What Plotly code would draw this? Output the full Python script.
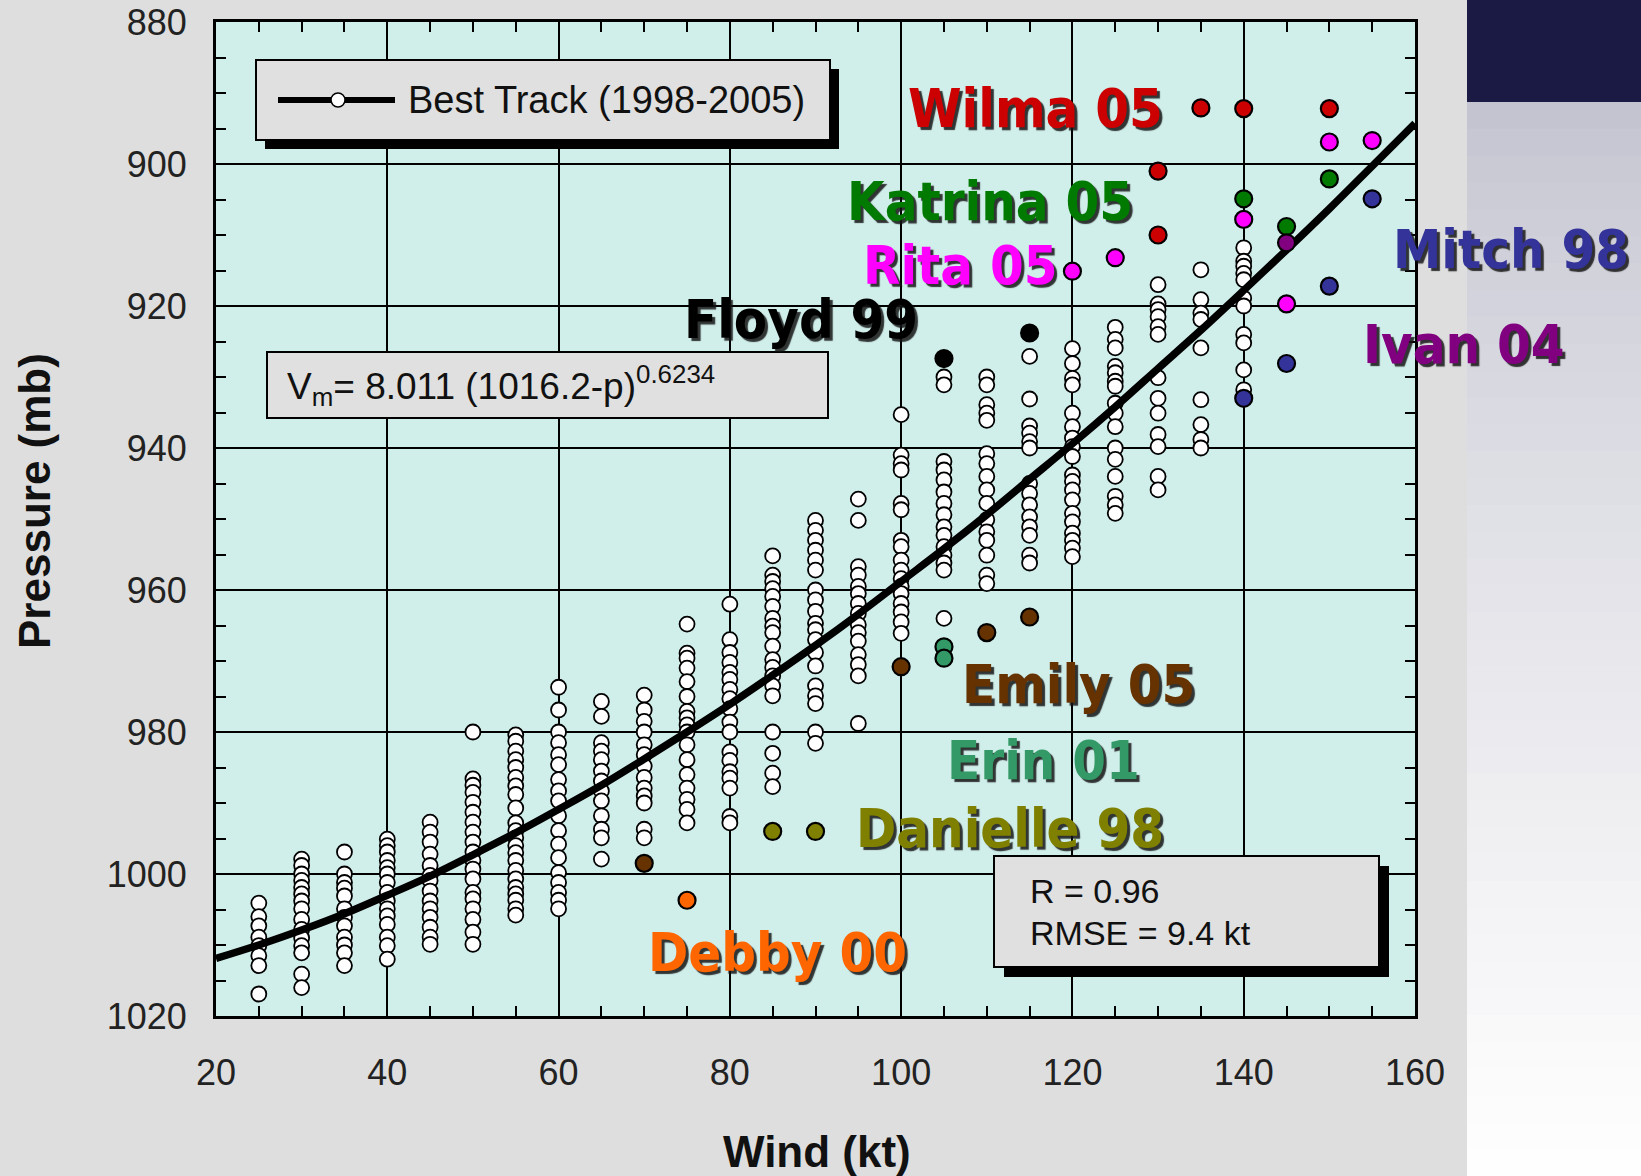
import plotly.graph_objects as go

# ---------------- data ----------------
bt_winds = [25, 30, 35, 40, 45, 50, 55, 60, 65, 70, 75, 80, 85, 90, 95,
            100, 105, 110, 115, 120, 125, 130, 135, 140]

bt_025 = [1004.1, 1006, 1007.3, 1008.9, 1010.1, 1011.5, 1012.9, 1016.9]
bt_030 = [997.9, 998.8, 1000, 1000.9, 1001.9, 1002.8, 1003.8, 1004.9, 1006.4, 1007.8,
          1009.0, 1010.1, 1011.1, 1014.1, 1016.0]
bt_035 = [996.9, 1000, 1001.2, 1002.0, 1003.1, 1004.9, 1006.1, 1007.3, 1008.9, 1010.0,
          1011.1, 1012.9]
bt_040 = [995.1, 996, 996.9, 998.1, 999.1, 1000, 1001.2, 1002.6, 1003.8, 1004.9, 1005.9,
          1007.1, 1008.9, 1010.1, 1012]
bt_045 = [992.7, 994.1, 995.5, 997.2, 998.8, 1000.2, 1000.9, 1002.4, 1003.8, 1004.9,
          1006.1, 1007.5, 1008.9, 1009.9]
bt_050 = [980, 986.6, 987.5, 988.5, 989.9, 991.3, 992.7, 994.1, 995.5, 996.9, 998.1,
          999.3, 1000.7, 1002.6, 1003.5, 1004.9, 1006.4, 1008.2, 1009.9]
bt_055 = [980.4, 981.3, 982.7, 983.9, 985, 986.4, 987.6, 988.8, 990.7, 992.8, 993.9,
          994.9, 996, 997, 998.1, 999.5, 1000.7, 1001.9, 1002.8, 1003.7, 1004.9, 1005.8]
bt_060 = [973.7, 976.9, 980, 981.5, 983.2, 984.6, 986.7, 988.3, 989.7, 991.8, 993.9,
          995.8, 997.7, 999.8, 1001.2, 1002.6, 1003.7, 1004.9]
bt_065 = [975.7, 977.8, 981.5, 982.7, 983.9, 985.5, 986.9, 988.3, 989.7, 991.8, 993.7,
          994.9, 997.9]
bt_070 = [974.8, 976.9, 978.5, 980, 981.8, 983.2, 984.8, 986.4, 987.9, 989, 990, 993.7,
          994.9]
bt_075 = [964.8, 968.9, 969.6, 971, 972.9, 975, 977.1, 978, 979, 980, 981.8, 983.9, 986,
          987.9, 989.5, 990.9, 992.8]
bt_080 = [962, 967, 968.8, 970.2, 971.6, 972.6, 974, 975.3, 976.7, 978.6, 980, 982.8,
          984, 985.6, 986.5, 987.9, 991.9, 992.8]
bt_085 = [955.2, 957.9, 958.8, 959.8, 960.9, 962.3, 964, 965.1, 966, 967.9, 969.8, 970.9,
          972.1, 973.5, 974.9, 980, 983, 985.8, 987.7]
bt_090 = [950.2, 951.6, 953, 954.4, 955.8, 957.2, 960, 961.4, 963, 964.7, 965.6, 967,
          968.8, 970.7, 973.5, 974.9, 976, 980, 981.6]
bt_095 = [947.2, 950.2, 956.7, 957.9, 959.5, 960.5, 961.9, 963.3, 964.9, 966, 967.2,
          969.1, 970.5, 972.1, 978.8]
bt_100 = [935.3, 941, 942.2, 943.1, 947.8, 948.7, 953, 953.9, 955.8, 957.2, 958.4, 959.5,
          960.5, 961.9, 963.1, 964.5, 966.1]
bt_105 = [930, 931.1, 941.9, 943.1, 944.5, 946.2, 947.8, 949.4, 951.1, 952.3, 953.9,
          955.1, 956.2, 957.2, 964]
bt_110 = [930, 931.1, 933.9, 935.1, 936.1, 940.8, 942.2, 944, 945.9, 947.8, 950.1, 951.8,
          953, 955.1, 957.9, 959.1]
bt_115 = [927.1, 933.1, 936.9, 937.9, 939.1, 940, 945, 946.4, 948, 949.7, 951.1, 952.3,
          955.1, 956.2]
bt_120 = [926, 928.1, 930.2, 931.1, 935.1, 937, 938.6, 939.8, 941.2, 943.8, 944.7, 945.9,
          947.3, 949.2, 950.4, 952, 953, 954.1, 955.3]
bt_125 = [923, 924.7, 925.9, 928.5, 929.4, 930.6, 931.3, 933.7, 935.1, 937, 940, 941.6,
          944, 946.8, 948, 949.2]
bt_130 = [917, 919.7, 920.5, 921.5, 922.9, 924, 930.1, 933, 935.1, 938.1, 939.8, 944,
          945.9]
bt_135 = [914.9, 919.1, 921, 921.9, 925.9, 933.2, 936.7, 938.8, 940]
bt_140 = [911.8, 913.7, 914.4, 915.4, 916.3, 918.9, 920, 924, 925.2, 929, 931.8]

bt_columns = [bt_025, bt_030, bt_035, bt_040, bt_045, bt_050, bt_055, bt_060, bt_065,
              bt_070, bt_075, bt_080, bt_085, bt_090, bt_095, bt_100, bt_105, bt_110,
              bt_115, bt_120, bt_125, bt_130, bt_135, bt_140]

# fitted curve
fit_wind = [20, 25, 30, 35, 40, 45, 50, 55, 60, 65, 70, 75, 80, 85, 90, 95, 100, 105,
            110, 115, 120, 125, 130, 135, 140, 145, 150, 155, 160]
fit_pres = [1011.9, 1010.0, 1007.9, 1005.6, 1003.0, 1000.3, 997.3, 994.2, 990.9, 987.5,
            983.8, 980.0, 976.1, 972.0, 967.8, 963.4, 958.8, 954.2, 949.4, 944.4, 939.4,
            934.2, 928.8, 923.4, 917.8, 912.1, 906.3, 900.3, 894.3]

# individual storms
storm_names = ["Emily 05", "Erin 01", "Danielle 98", "Debby 00", "Floyd 99",
               "Wilma 05", "Katrina 05", "Ivan 04", "Rita 05", "Mitch 98"]
storm_colors = ["#663300", "#339966", "#808000", "#ff6600", "#000000",
                "#cc0000", "#007a00", "#800080", "#ff00ff", "#333399"]
storm_wind = [[70, 100, 110, 115], [105, 105], [85, 90], [75], [105, 115],
              [130, 130, 135, 140, 150], [140, 145, 150], [145],
              [120, 125, 140, 145, 150, 155], [140, 145, 150, 155]]
storm_pres = [[998.5, 970.8, 966.0, 963.8], [968.0, 969.6], [994.0, 994.0], [1003.7],
              [927.4, 923.8], [901.0, 910.0, 892.1, 892.2, 892.2],
              [904.9, 908.8, 902.1], [911.1],
              [915.1, 913.2, 907.8, 919.7, 896.9, 896.7],
              [933.0, 928.1, 917.2, 904.9]]

x_ticks = [20, 40, 60, 80, 100, 120, 140, 160]
y_ticks = [880, 900, 920, 940, 960, 980, 1000, 1020]

legend_text = "Best Track (1998-2005)"
formula_text = "V<sub>m</sub>= 8.011 (1016.2-p)<sup>0.6234</sup>"
stats_lines = ["R = 0.96", "RMSE = 9.4 kt"]

# ---------------- figure ----------------
W, H = 1641, 1176
L, R, T, B = 216, 1415, 22, 1016


def PX(x):
    return (x - L) / (R - L)


def PY(y):
    return (B - y) / (B - T)


fig = go.Figure()

bx, by = [], []
for w, col in zip(bt_winds, bt_columns):
    bx += [w] * len(col)
    by += col
fig.add_trace(go.Scatter(x=bx, y=by, mode="markers",
                         marker=dict(size=15, color="white",
                                     line=dict(color="black", width=1.8)),
                         showlegend=False, hoverinfo="skip"))

fig.add_trace(go.Scatter(x=fit_wind, y=fit_pres, mode="lines",
                         line=dict(color="black", width=7.5, shape="spline"),
                         showlegend=False, hoverinfo="skip"))

for name, c, xs, ys in zip(storm_names, storm_colors, storm_wind, storm_pres):
    fig.add_trace(go.Scatter(x=xs, y=ys, mode="markers", name=name,
                             marker=dict(size=17, color=c,
                                         line=dict(color="black", width=2.2)),
                             showlegend=False, hoverinfo="skip"))

shapes = []
# right decorative panel
shapes.append(dict(type="rect", xref="paper", yref="paper",
                   x0=PX(1467), x1=PX(1641), y0=PY(0), y1=PY(102),
                   fillcolor="#1b1a44", line=dict(width=0), layer="below"))
nb = 40
top = (194, 194, 207)
for i in range(nb):
    y0 = 102 + (1176 - 102) * i / nb
    y1 = 102 + (1176 - 102) * (i + 1) / nb
    t = ((i + 0.5) / nb) ** 0.75
    c = tuple(int(round(top[k] + (255 - top[k]) * t)) for k in range(3))
    shapes.append(dict(type="rect", xref="paper", yref="paper",
                       x0=PX(1467), x1=PX(1641), y0=PY(y0), y1=PY(y1 + 1),
                       fillcolor="rgb(%d,%d,%d)" % c, line=dict(width=0),
                       layer="below"))

# legend box with shadow
shapes.append(dict(type="rect", xref="paper", yref="paper",
                   x0=PX(265), x1=PX(839), y0=PY(69), y1=PY(149),
                   fillcolor="black", line=dict(width=0), layer="above"))
shapes.append(dict(type="rect", xref="paper", yref="paper",
                   x0=PX(256), x1=PX(830), y0=PY(60), y1=PY(140),
                   fillcolor="#e0e0e0", line=dict(color="black", width=2),
                   layer="above"))
shapes.append(dict(type="line", xref="paper", yref="paper",
                   x0=PX(278), x1=PX(395), y0=PY(100), y1=PY(100),
                   line=dict(color="black", width=6), layer="above"))
shapes.append(dict(type="circle", xref="paper", yref="paper",
                   x0=PX(331), x1=PX(345), y0=PY(93), y1=PY(107),
                   fillcolor="white", line=dict(color="black", width=1.5),
                   layer="above"))
# formula box
shapes.append(dict(type="rect", xref="paper", yref="paper",
                   x0=PX(267), x1=PX(828), y0=PY(352), y1=PY(418),
                   fillcolor="#e0e0e0", line=dict(color="black", width=2),
                   layer="above"))
# stats box with shadow
shapes.append(dict(type="rect", xref="paper", yref="paper",
                   x0=PX(1004), x1=PX(1389), y0=PY(866), y1=PY(977),
                   fillcolor="black", line=dict(width=0), layer="above"))
shapes.append(dict(type="rect", xref="paper", yref="paper",
                   x0=PX(994), x1=PX(1379), y0=PY(856), y1=PY(967),
                   fillcolor="#e0e0e0", line=dict(color="black", width=2),
                   layer="above"))

ann = []
label_font = "DejaVu Sans Condensed, Noto Sans, DejaVu Sans"
label_pos = {"Wilma 05": (1035, 108), "Katrina 05": (990, 202), "Rita 05": (960, 265),
             "Floyd 99": (801, 319), "Mitch 98": (1511, 249), "Ivan 04": (1464, 345),
             "Emily 05": (1078, 684), "Erin 01": (1043, 760), "Danielle 98": (1010, 828),
             "Debby 00": (777, 952)}
for name, c in zip(storm_names, storm_colors):
    cx, cy = label_pos[name]
    ann.append(dict(xref="paper", yref="paper", x=PX(cx), y=PY(cy),
                    xanchor="center", yanchor="middle", showarrow=False,
                    text="<b>%s</b>" % name,
                    font=dict(family=label_font, size=54, color=c,
                              shadow="3px 3px 1px rgba(20,20,20,0.85)")))

ann.append(dict(xref="paper", yref="paper", x=PX(406), y=PY(100), xanchor="left",
                yanchor="middle", showarrow=False, text=legend_text,
                font=dict(family="Liberation Sans, Arial", size=38, color="#111")))
ann.append(dict(xref="paper", yref="paper", x=PX(285), y=PY(386), xanchor="left",
                yanchor="middle", showarrow=False, text=formula_text,
                font=dict(family="Liberation Sans, Arial", size=37, color="#111")))
for i, s in enumerate(stats_lines):
    ann.append(dict(xref="paper", yref="paper", x=PX(1028), y=PY(891 + 42 * i),
                    xanchor="left", yanchor="middle", showarrow=False, text=s,
                    font=dict(family="Liberation Sans, Arial", size=34, color="#111")))

ann.append(dict(xref="paper", yref="paper", x=PX(817), y=PY(1151), xanchor="center",
                yanchor="middle", showarrow=False, text="<b>Wind (kt)</b>",
                font=dict(family="Liberation Sans, Arial", size=44, color="#111")))
ann.append(dict(xref="paper", yref="paper", x=PX(34), y=PY(501), xanchor="center",
                yanchor="middle", showarrow=False, text="<b>Pressure (mb)</b>",
                textangle=-90,
                font=dict(family="Liberation Sans, Arial", size=44, color="#111")))

axis_common = dict(showline=True, linecolor="black", linewidth=3, mirror="ticks",
                   ticks="inside", ticklen=10, tickwidth=1.5, tickcolor="black",
                   showgrid=True, gridcolor="black", gridwidth=1.5, zeroline=False,
                   automargin=False,
                   tickfont=dict(family="Liberation Sans, Arial", size=36, color="#222"),
                   minor=dict(dtick=5, ticks="inside", ticklen=10, tickwidth=1.5,
                              tickcolor="black", showgrid=False))

fig.update_layout(
    width=W, height=H,
    margin=dict(l=L, r=W - R, t=T, b=H - B, pad=0, autoexpand=False),
    paper_bgcolor="#dedede", plot_bgcolor="#d0eeea",
    xaxis=dict(range=[20, 160], tickvals=x_ticks, ticklabelstandoff=23,
               **axis_common),
    yaxis=dict(range=[1020, 880], tickvals=y_ticks, ticklabelstandoff=19,
               **axis_common),
    shapes=shapes, annotations=ann, showlegend=False,
)

fig.write_html("out.html",
               config={"displayModeBar": False},
               post_script="document.body.style.margin='0px';"
                           "document.body.style.overflow='hidden';")
